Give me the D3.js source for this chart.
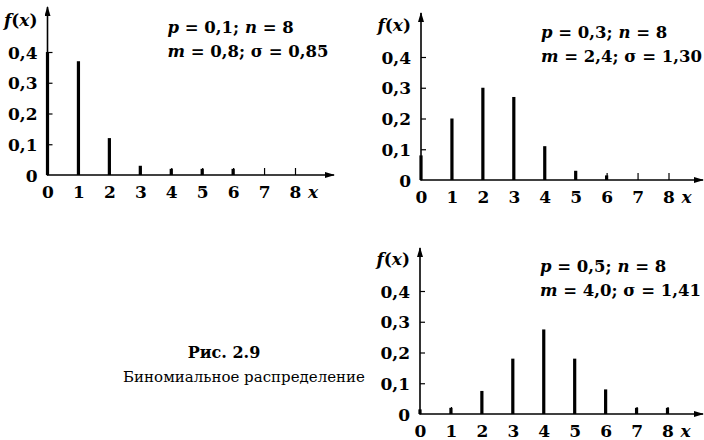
<!DOCTYPE html>
<html>
<head>
<meta charset="utf-8">
<script src="https://cdn.jsdelivr.net/npm/d3@7"></script>
<style>
  body { margin: 0; background: #fff; }
  text { font-family: "DejaVu Serif", serif; fill: #000; }
</style>
</head>
<body>
<script>
// x values and the three binomial series (n = 8)
var xs = [0, 1, 2, 3, 4, 5, 6, 7, 8];
var yTicks = [0, 0.1, 0.2, 0.3, 0.4];
var f1 = [0.40, 0.37, 0.12, 0.03, 0.02, 0.02, 0.02, 0, 0];
var f2 = [0.08, 0.20, 0.30, 0.27, 0.11, 0.03, 0.015, 0, 0];
var f3 = [0.015, 0.02, 0.075, 0.18, 0.275, 0.18, 0.08, 0.02, 0.02];
var params1 = ["p = 0,1; n = 8", "m = 0,8; σ = 0,85"];
var params2 = ["p = 0,3; n = 8", "m = 2,4; σ = 1,30"];
var params3 = ["p = 0,5; n = 8", "m = 4,0; σ = 1,41"];
var caption = ["Рис. 2.9", "Биномиальное распределение"];

var svg = d3.select("body").append("svg")
    .attr("width", 704)
    .attr("height", 440);

svg.append("defs").append("marker")
    .attr("id", "arr")
    .attr("viewBox", "0 0 10 6")
    .attr("refX", 9).attr("refY", 3)
    .attr("markerWidth", 10).attr("markerHeight", 6)
    .attr("markerUnits", "userSpaceOnUse")
    .attr("orient", "auto")
  .append("path")
    .attr("d", "M0,0 L10,3 L0,6 Z")
    .attr("fill", "#000");

// write "p = 0,1" style text: latin letters italic, the rest upright
function mathText(sel, str) {
  str.split(/([a-z])/).forEach(function(part) {
    if (part === "") return;
    sel.append("tspan")
      .attr("font-style", /^[a-z]$/.test(part) ? "italic" : null)
      .text(part);
  });
}

function drawPlot(ox, oy, topY, endX, data, params) {
  var x = d3.scaleLinear().domain([0, 8]).range([ox, ox + 247.5]);
  var y = d3.scaleLinear().domain([0, 0.4]).range([oy, oy - 123]);

  var g = svg.append("g");

  // axes with arrows
  g.append("line")
    .attr("x1", ox).attr("y1", oy + 0.5)
    .attr("x2", ox).attr("y2", topY)
    .attr("stroke", "#000").attr("stroke-width", 1.6)
    .attr("marker-end", "url(#arr)");
  g.append("line")
    .attr("x1", ox - 0.5).attr("y1", oy)
    .attr("x2", endX).attr("y2", oy)
    .attr("stroke", "#000").attr("stroke-width", 1.6)
    .attr("marker-end", "url(#arr)");

  var yAxis = g.append("g")
    .attr("transform", "translate(" + ox + ",0)")
    .call(d3.axisLeft(y).tickValues(yTicks).tickSize(-5).tickPadding(10)
      .tickFormat(function(d) { return d === 0 ? "0" : d3.format(".1f")(d).replace(".", ","); }));
  yAxis.select(".domain").remove();
  yAxis.selectAll("line").attr("stroke-width", 1.2);
  yAxis.selectAll("text")
    .attr("font-family", "DejaVu Serif").attr("font-size", 17)
    .attr("font-weight", "bold").attr("dy", "0.36em");
  yAxis.selectAll(".tick").filter(function(d) { return d === 0; }).select("line").remove();

  var xAxis = g.append("g")
    .attr("transform", "translate(0," + oy + ")")
    .call(d3.axisBottom(x).tickValues(xs).tickSize(-7).tickPadding(11)
      .tickFormat(d3.format("d")));
  xAxis.select(".domain").remove();
  xAxis.selectAll("line").attr("stroke-width", 1.2);
  xAxis.selectAll(".tick").filter(function(d) { return d === 0; }).select("line").remove();
  xAxis.selectAll("text")
    .attr("font-family", "DejaVu Serif").attr("font-size", 17)
    .attr("font-weight", "bold");

  // bars
  g.selectAll("rect.bar")
    .data(data.map(function(v, i) { return { x: xs[i], v: v }; }).filter(function(d) { return d.v > 0; }))
    .enter().append("rect")
    .attr("class", "bar")
    .attr("x", function(d) { return x(d.x) - 1.6; })
    .attr("width", 3.2)
    .attr("y", function(d) { return y(d.v); })
    .attr("height", function(d) { return oy - y(d.v); })
    .attr("fill", "#000");

  // axis names
  var fx = g.append("text")
    .attr("x", ox - 10).attr("y", y(0.4) - 26)
    .attr("text-anchor", "end")
    .attr("font-size", 17).attr("font-weight", "bold");
  fx.append("tspan").attr("font-style", "italic").text("f");
  fx.append("tspan").text("(");
  fx.append("tspan").attr("font-style", "italic").text("x");
  fx.append("tspan").text(")");

  g.append("text")
    .attr("x", x(8) + 18).attr("y", oy + 23)
    .attr("text-anchor", "middle")
    .attr("font-size", 17).attr("font-weight", "bold").attr("font-style", "italic")
    .text("x");

  // parameters
  params.forEach(function(line, i) {
    var t = g.append("text")
      .attr("x", ox + 120).attr("y", oy - 142 + i * 24)
      .attr("font-size", 16.5).attr("font-weight", "bold");
    mathText(t, line);
  });
}

drawPlot(47.5, 175, 7, 334, f1, params1);
drawPlot(421, 180, 13, 703, f2, params2);
drawPlot(420, 414, 248, 703, f3, params3);

svg.append("text")
  .attr("x", 224).attr("y", 358)
  .attr("text-anchor", "middle")
  .attr("font-size", 16).attr("font-weight", "bold")
  .text(caption[0]);
svg.append("text")
  .attr("x", 244).attr("y", 382)
  .attr("text-anchor", "middle")
  .attr("font-size", 15)
  .text(caption[1]);
</script>
</body>
</html>
